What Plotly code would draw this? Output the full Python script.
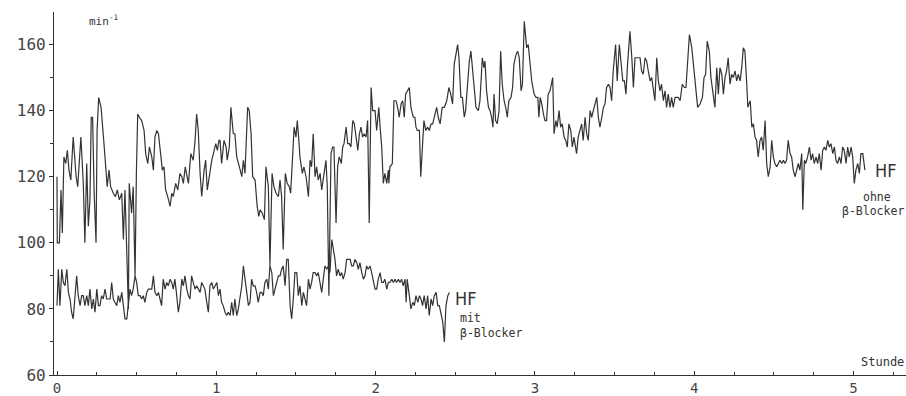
import numpy as np
import plotly.graph_objects as go

# Heart rate without beta-blocker (time in minutes, rate in 1/min)
t_ohne = [0.0,0.1,0.9,1.5,2.0,2.6,3.3,3.9,4.5,5.2,6.1,7.2,7.8,9.0,9.9,10.5,11.2,11.8,12.4,12.9,13.4,14.0,14.7,15.1,15.7,16.6,17.7,18.5,18.9,19.6,20.2,21.2,22.0,22.7,23.5,24.4,25.0,25.6,26.4,26.9,27.2,28.1,28.7,29.4,29.9,30.4,31.0,31.9,32.8,33.4,34.2,34.8,35.7,36.3,36.9,37.6,38.2,38.8,39.7,40.3,40.9,41.7,42.6,43.2,43.8,44.7,45.5,46.3,47.0,47.6,48.3,49.5,50.4,51.3,52.0,52.6,53.2,53.9,54.5,55.4,56.0,56.6,57.4,58.3,58.9,59.8,60.4,61.0,61.4,62.0,62.9,63.7,64.1,64.9,65.5,66.4,67.0,67.7,68.7,69.6,70.2,70.8,71.8,72.4,73.1,73.7,74.6,75.4,76.0,76.5,77.3,78.1,78.7,79.6,80.2,81.0,81.7,82.5,83.4,84.0,84.6,85.2,86.0,86.7,87.5,88.0,88.8,89.3,90.0,90.5,91.0,91.5,92.4,93.0,93.8,94.7,95.3,95.9,96.5,97.2,97.8,98.4,99.1,99.7,100.6,101.3,101.8,102.4,103.2,103.8,104.3,105.1,105.7,106.3,107.1,107.6,108.1,108.9,109.5,110.1,110.7,111.4,112.0,112.6,113.3,113.9,114.5,115.1,115.7,116.4,117.0,117.6,118.3,118.9,119.8,120.4,121.2,121.7,122.3,122.9,123.5,124.2,124.8,125.0,125.4,126.3,126.9,127.7,128.3,128.9,129.6,130.2,130.8,131.3,132.1,132.7,133.3,134.2,134.8,135.2,135.7,136.5,137.0,137.6,138.2,138.9,139.6,140.2,140.9,141.5,142.1,143.0,143.6,144.3,145.1,145.9,146.8,147.6,148.3,149.0,149.6,150.3,150.9,151.4,152.1,152.7,153.4,153.9,154.7,155.3,155.9,156.6,157.2,157.8,158.7,159.3,160.2,160.8,161.2,161.8,162.5,163.1,163.7,164.2,164.6,165.2,165.8,166.5,167.1,167.7,168.4,169.0,169.6,170.2,171.0,171.6,172.1,172.9,173.5,174.1,174.8,175.3,176.0,176.9,177.5,178.2,178.8,179.7,180.4,181.1,181.5,182.0,182.6,183.2,183.8,184.4,185.0,185.7,186.7,187.2,187.9,188.4,189.1,189.7,190.3,191.0,191.6,192.2,192.8,193.5,194.1,194.7,195.2,195.7,196.3,197.0,197.6,198.2,198.9,199.5,200.1,200.8,201.4,202.0,202.6,203.3,203.9,204.5,205.2,205.8,206.4,207.0,207.7,208.3,208.9,209.5,210.4,211.0,211.8,212.4,213.1,213.7,214.3,214.9,215.8,216.5,217.1,217.7,218.6,219.6,220.2,220.8,221.5,222.1,222.7,223.4,224.0,224.6,225.2,225.9,226.5,227.1,227.7,228.4,229.0,229.6,230.2,230.9,231.5,232.1,232.8,234.0,234.7,235.5,236.3,236.9,237.6,238.2,239.1,239.9,240.6,241.3,242.2,243.1,243.7,244.3,244.9,245.7,246.3,247.2,247.8,248.5,249.1,249.7,250.4,251.0,251.6,252.2,252.8,253.5,254.1,254.7,255.4,256.0,256.6,257.3,257.9,258.5,259.1,259.8,260.2,260.6,261.1,261.7,262.3,262.9,263.5,264.1,264.8,265.4,266.0,266.7,267.3,267.9,268.6,269.2,269.8,270.4,271.1,271.7,272.3,273.0,273.6,274.2,274.8,275.4,276.1,276.7,277.3,278.0,278.6,279.2,279.8,280.5,280.9,281.5,282.0,282.7,283.4,284.0,284.6,285.2,285.9,286.5,287.1,287.8,288.4,289.0,289.6,290.3,290.9,291.5,292.2,292.8,293.4,294.0,294.7,295.3,295.9,296.5,297.2,297.8,298.4,299.1,299.7,300.3,300.9,301.6,302.2,302.8,303.5,304.3]
hf_ohne = [120,100,100,116,103,126,124,128,122,119,132,120,117,132,118,100,124,105,113,138,138,115,100,134,144,141,130,122,117,122,117,115,114,116,113,115,101,116,90,80,118,109,117,90,121,139,138,137,134,127,124,129,126,122,132,134,133,128,122,123,116,114,111,115,114,118,116,121,120,118,123,118,127,125,131,139,134,121,114,122,125,116,121,125,127,130,128,131,131,124,131,129,125,129,141,133,133,126,123,120,125,121,141,140,133,120,119,111,108,110,109,107,123,117,93,121,117,115,114,119,114,98,121,118,117,115,127,135,132,137,132,126,121,123,120,114,125,123,133,120,123,119,121,116,121,125,117,84,127,129,129,106,123,126,124,129,130,135,130,130,129,137,136,132,128,133,135,132,133,132,137,106,147,140,140,134,141,135,129,118,121,118,122,118,123,124,143,143,141,138,142,143,138,145,146,147,141,138,138,135,134,134,120,128,137,134,135,134,136,136,138,141,138,136,141,141,143,147,145,142,154,157,160,156,144,144,138,140,148,155,158,152,145,141,140,143,156,153,155,146,141,140,138,135,145,137,136,140,158,148,143,141,138,143,144,147,154,157,158,156,146,148,167,159,160,154,149,145,144,144,138,144,142,139,137,137,145,146,150,133,137,135,140,135,136,132,131,129,136,134,129,132,129,127,132,134,136,131,138,133,131,140,138,140,142,144,138,135,138,141,142,147,148,147,143,152,160,149,160,154,149,149,145,154,164,156,147,156,156,156,152,151,156,155,152,149,150,146,143,156,149,146,148,143,146,141,145,141,144,141,144,144,143,148,147,147,156,163,159,153,147,141,142,144,150,151,161,158,150,144,141,153,145,153,151,145,150,152,156,148,151,150,152,149,151,149,153,159,158,148,141,142,143,135,136,132,131,126,131,132,128,137,124,120,123,131,126,124,123,124,125,124,125,124,125,131,127,126,122,120,122,124,122,127,110,125,124,126,129,125,127,124,126,124,127,122,128,129,128,131,129,130,127,129,125,124,126,124,129,128,124,129,126,129,126,118,122,124,121,127,127,122]

# Heart rate with beta-blocker
t_mit = [0.0,0.5,1.1,1.8,2.4,3.0,3.7,4.3,4.9,5.5,6.1,6.8,7.4,8.0,8.7,9.3,9.9,10.5,11.2,11.8,12.4,13.1,13.7,14.3,15.0,15.6,16.2,16.8,17.4,18.1,18.7,19.3,20.0,20.6,21.2,21.8,22.5,23.1,23.7,24.4,25.0,25.6,26.3,26.9,27.5,28.1,28.7,29.4,30.0,30.6,31.3,31.9,32.5,33.1,33.8,34.4,35.0,35.7,36.3,36.9,37.6,38.2,38.8,39.4,40.0,40.7,41.3,41.9,42.6,43.2,43.8,44.4,45.1,45.7,46.3,47.0,47.6,48.2,48.9,49.5,50.1,50.7,51.3,52.0,52.6,53.2,53.9,54.5,55.1,55.7,56.4,57.0,57.6,58.3,58.9,59.5,60.2,60.8,61.4,62.0,62.6,63.3,63.9,64.5,65.2,65.8,66.4,67.0,67.7,68.3,68.9,69.6,70.2,70.8,71.5,72.1,72.7,73.3,73.9,74.6,75.2,75.8,76.5,77.1,77.7,78.3,79.0,79.6,80.2,80.9,81.5,82.1,82.8,83.4,84.0,84.6,85.2,85.9,86.5,87.1,87.8,88.4,89.0,89.6,90.3,90.9,91.5,92.2,92.8,93.4,94.0,94.7,95.3,95.9,96.5,97.2,97.8,98.4,99.1,99.7,100.3,100.9,101.6,102.2,102.8,103.5,104.1,104.7,105.3,105.9,106.6,107.2,107.8,108.5,109.1,109.7,110.4,111.0,111.6,112.2,112.9,113.5,114.1,114.8,115.4,116.0,116.6,117.2,117.9,118.5,119.1,119.8,120.4,121.0,121.7,122.3,122.9,123.5,124.2,124.8,125.4,126.1,126.7,127.3,127.9,128.6,129.2,129.8,130.4,131.1,131.5,131.9,132.7,133.3,134.0,134.6,135.2,135.9,136.5,137.1,137.7,138.3,139.0,139.6,140.2,140.9,141.5,142.1,142.8,143.4,144.0,144.6,145.3,145.9,146.5,147.2,147.8]
hf_mit = [81,92,81,92,88,87,92,85,83,79,77,85,90,84,81,84,84,81,84,81,86,80,83,79,86,81,81,84,83,86,83,83,83,88,83,82,81,84,82,85,80,77,77,82,86,84,86,90,88,84,84,83,84,82,85,86,86,86,90,85,84,85,83,81,89,86,88,87,89,88,86,89,84,79,82,89,87,90,86,84,83,90,88,86,87,86,85,88,87,86,82,79,87,88,86,87,88,84,86,82,81,79,78,79,78,82,78,83,78,80,83,87,93,89,84,81,82,89,87,87,85,82,85,85,84,88,89,86,93,91,84,86,88,90,90,92,93,87,95,95,81,77,83,91,91,84,87,81,85,83,81,89,86,88,91,91,90,91,88,85,89,93,92,93,91,101,98,95,90,92,90,91,89,91,95,95,95,93,93,95,94,92,94,91,89,90,93,92,93,91,89,86,86,89,91,88,88,89,86,88,88,89,88,89,88,89,88,89,87,89,82,89,84,80,82,81,84,82,84,83,81,84,80,84,78,83,81,84,85,81,81,79,76,70,81,84,85]

# Axis ticks
y_major = [60, 80, 100, 120, 140, 160]
x_major = [0, 1, 2, 3, 4, 5]
x_labels = ["0", "1", "2", "3", "4", "5"]

ink = "#333333"
mono = "DejaVu Sans Mono"
narrow = "Liberation Sans Narrow, DejaVu Sans Condensed, Liberation Sans"

fig = go.Figure()
fig.add_trace(go.Scatter(x=np.array(t_ohne) / 60.0, y=hf_ohne, mode="lines",
                         line=dict(color=ink, width=1.2), showlegend=False, hoverinfo="skip"))
fig.add_trace(go.Scatter(x=np.array(t_mit) / 60.0, y=hf_mit, mode="lines",
                         line=dict(color=ink, width=1.2), showlegend=False, hoverinfo="skip"))

px_per_h = 159.3
x_start = -3 / px_per_h
fig.update_layout(
    width=906, height=396,
    margin=dict(l=54, r=0, t=12, b=16),
    paper_bgcolor="white", plot_bgcolor="white",
    showlegend=False,
    xaxis=dict(range=[x_start, x_start + 852 / px_per_h],
               tickvals=x_major, ticktext=x_labels,
               showgrid=False, zeroline=False,
               showline=True, linecolor=ink, linewidth=1.2,
               ticks="inside", ticklen=4, tickcolor=ink, tickwidth=1,
               minor=dict(dtick=0.25, tick0=0, ticks="inside", ticklen=3, tickcolor=ink, showgrid=False),
               tickfont=dict(family=mono, size=14, color="#444")),
    yaxis=dict(range=[60, 60 + 368 / 3.35],
               tickvals=y_major,
               showgrid=False, zeroline=False,
               showline=True, linecolor=ink, linewidth=1.2,
               ticks="outside", ticklen=4, tickcolor=ink, tickwidth=1,
               minor=dict(dtick=10, tick0=60, ticks="outside", ticklen=3, tickcolor=ink, showgrid=False),
               tickfont=dict(family=mono, size=16, color="#444")),
)

def note(x, y, text, size, anchor="left", family=mono, xref="x"):
    fig.add_annotation(x=x, y=y, xref=xref, yref="y", text=text, showarrow=False,
                       xanchor=anchor, yanchor="middle",
                       font=dict(family=family, size=size, color="#333"))

note(0.19, 167.3, "min<sup>-1</sup>", 11)
note(2.485, 83.3, "HF", 18, family=narrow)
note(2.515, 77.1, "mit", 11.5)
note(2.515, 72.8, "β-Blocker", 11.5)
note(5.12, 121.8, "HF", 18, family=narrow)
note(5.05, 113.9, "ohne", 11.5, anchor="left")
note(1.0, 109.7, "β-Blocker", 11.5, anchor="right", xref="paper")
note(1.0, 63.9, "Stunde", 12, anchor="right", xref="paper")

fig.write_html("out.html",
               config={"displayModeBar": False},
               post_script="document.body.style.margin='0';document.body.style.overflow='hidden';")
